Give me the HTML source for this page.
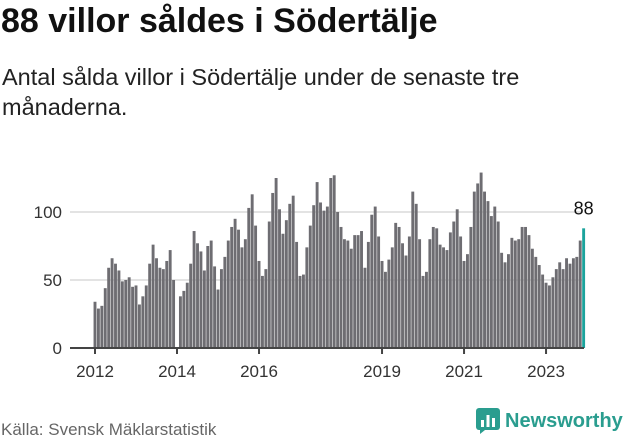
<!DOCTYPE html>
<html><head><meta charset="utf-8"><style>
body{margin:0;background:#fff;font-family:"Liberation Sans",sans-serif;}
#wrap{position:relative;width:631px;height:439px;overflow:hidden}
h1{position:absolute;left:1px;top:2px;margin:0;font-size:34px;font-weight:bold;color:#111;letter-spacing:0px;white-space:nowrap}
p.sub{position:absolute;left:2px;top:62px;margin:0;font-size:23.5px;line-height:30px;color:#222;width:560px}
.src{position:absolute;left:1px;top:420px;font-size:17px;color:#666}
.logo{position:absolute;left:476px;top:408px;display:flex;align-items:center}
.logo span{font-size:20px;font-weight:bold;color:#2a9d8f;margin-left:5px}
</style></head><body><div id="wrap">
<h1>88 villor såldes i Södertälje</h1>
<p class="sub">Antal sålda villor i Södertälje under de senaste tre månaderna.</p>
<svg id="chart" width="631" height="439" style="position:absolute;left:0;top:0"></svg>
<div class="src">Källa: Svensk Mäklarstatistik</div>
<div class="logo"><svg width="24" height="26" viewBox="0 0 24 26"><rect x="0" y="0" width="24" height="22" rx="3" fill="#2a9d8f"/><path d="M4 22 L4 26 L9 22Z" fill="#2a9d8f"/><rect x="5" y="12" width="3" height="7" fill="#fff"/><rect x="10.5" y="7" width="3" height="12" fill="#fff"/><rect x="16" y="10" width="3" height="9" fill="#fff"/></svg><span>Newsworthy</span></div>
</div>
<script>
const values=[34,29,31,44,59,66,62,57,49,50,52,45,46,32,38,46,62,76,66,59,58,64,72,50,0,38,42,48,62,86,77,71,57,75,79,60,43,58,67,79,89,95,87,74,80,103,113,
90,64,53,58,93,114,125,102,84,94,106,112,78,53,54,74,90,105,122,107,101,104,125,127,100,89,80,79,73,83,83,86,59,78,98,104,82,64,56,65,74,92,89,77,68,82,115,106,
80,53,56,80,89,88,76,74,72,85,93,102,82,64,69,89,115,121,129,115,108,97,104,93,70,63,69,81,79,80,89,89,83,73,67,61,54,48,46,52,58,63,58,66,62,66,67,79,88];
const startYear=2012;
const yTicks=[0,50,100];
const xTickYears=[2012,2014,2016,2019,2021,2023];
const svg=document.getElementById('chart');const NS='http://www.w3.org/2000/svg';
const x0=95,pitch=3.417,y0=348,ys=1.36;
const xScale=i=>x0+i*pitch;const yScale=v=>y0-v*ys;
function el(t,a){const e=document.createElementNS(NS,t);for(const k in a)e.setAttribute(k,a[k]);svg.appendChild(e);return e;}
yTicks.forEach(t=>{if(t>0){const g=el('line',{x1:70,x2:582,y1:yScale(t),y2:yScale(t),stroke:'#e3e3e3','stroke-width':2});

}
const l=el('text',{x:62,y:yScale(t)+6,'text-anchor':'end','font-size':17,fill:'#333','font-family':'Liberation Sans, sans-serif'});l.textContent=t;

});
values.forEach((v,i)=>{const last=i===values.length-1;const r=el('rect',{x:xScale(i)-1.45,y:yScale(v),width:2.9,height:v*ys,fill:last?'#1ba39c':'#6e6d72'});

});
const lv=values[values.length-1];
const lt=el('text',{x:xScale(values.length-1),y:yScale(lv)-14,'text-anchor':'middle','font-size':18,fill:'#111','font-family':'Liberation Sans, sans-serif'});lt.textContent=lv;


const ax=el('line',{x1:70,x2:584,y1:y0,y2:y0,stroke:'#444','stroke-width':2});


xTickYears.forEach(yr=>{const x=xScale((yr-startYear)*12);el('line',{x1:x,x2:x,y1:y0,y2:y0+6,stroke:'#444','stroke-width':2});
const t=el('text',{x:x,y:377,'text-anchor':'middle','font-size':17,fill:'#333','font-family':'Liberation Sans, sans-serif'});t.textContent=yr;

});
</script></body></html>
